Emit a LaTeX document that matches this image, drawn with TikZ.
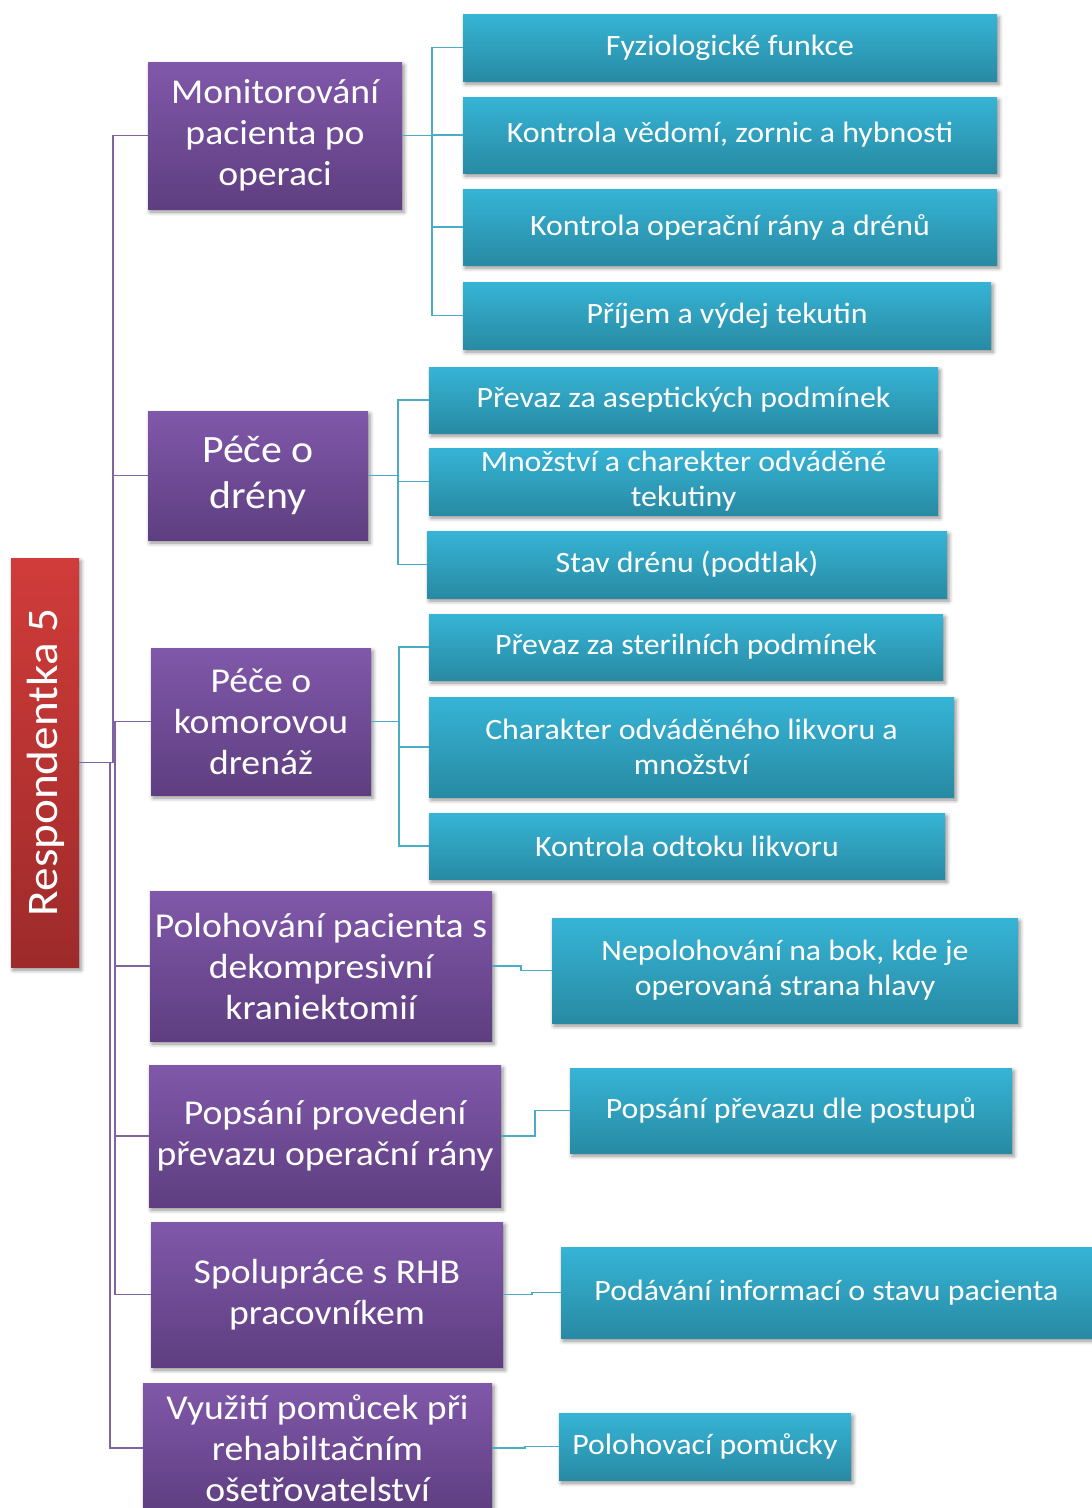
\documentclass[tikz,border=0pt]{standalone}
\usepackage{fontspec}
\setmainfont{Carlito}[FakeStretch=1.08]
\usetikzlibrary{shadows.blur}
\definecolor{purpleTop}{RGB}{128,88,170}
\definecolor{purpleBot}{RGB}{94,62,128}
\definecolor{blueTop}{RGB}{54,180,214}
\definecolor{blueBot}{RGB}{40,138,163}
\definecolor{redTop}{RGB}{208,60,58}
\definecolor{redBot}{RGB}{158,42,42}
\definecolor{purpleLine}{RGB}{128,100,162}
\definecolor{blueLine}{RGB}{75,172,198}
\tikzset{
  box/.style={rectangle, inner sep=0pt, align=center, text=white,
    blur shadow={shadow xshift=2pt, shadow yshift=-3pt, shadow blur radius=4pt, shadow opacity=45}},
  rootbox/.style={box, top color=redTop, bottom color=redBot},
  topicbox/.style={box, top color=purpleTop, bottom color=purpleBot,
    font=\fontsize{34.9}{41}\selectfont},
  bigtopic/.style={topicbox, font=\fontsize{38.7}{46}\selectfont},
  itembox/.style={box, top color=blueTop, bottom color=blueBot,
    font=\fontsize{29.5}{35}\selectfont},
  rootlink/.style={draw=purpleLine, line width=1.8pt},
  itemlink/.style={draw=blueLine, line width=1.8pt},
}
\begin{document}
\begin{tikzpicture}[x=1pt, y=-1pt]
\useasboundingbox (0,0) rectangle (1092,1508);

% root
\node[rootbox, minimum width=68pt, minimum height=409pt] (root) at (45,762.5) {};
\node[text=white, font=\fontsize{43.7}{50}\selectfont, rotate=90] (rootlabel) at (46,762.5) {Respondentka 5};

% topics
\node[topicbox, minimum width=254pt, minimum height=147pt] (p1) at (275,135.5)
  {Monitorování\\pacienta po\\operaci};
\node[bigtopic, minimum width=220pt, minimum height=129pt] (p2) at (258,475.5)
  {Péče o\\drény};
\node[topicbox, minimum width=220pt, minimum height=147pt] (p3) at (261,721.5)
  {Péče o\\komorovou\\drenáž};
\node[topicbox, minimum width=342pt, minimum height=150pt] (p4) at (321,966)
  {Polohování pacienta s\\dekompresivní\\kraniektomií};
\node[topicbox, minimum width=352pt, minimum height=142pt] (p5) at (325,1136)
  {Popsání provedení\\převazu operační rány};
\node[topicbox, minimum width=352pt, minimum height=145pt] (p6) at (327,1294.5)
  {Spolupráce s RHB\\pracovníkem};
\node[topicbox, minimum width=349pt, minimum height=130pt] (p7) at (317.5,1448)
  {Využití pomůcek při\\rehabiltačním\\ošetřovatelství};

% items
\node[itembox, minimum width=534pt, minimum height=67pt] (b1) at (730,47.5) {Fyziologické funkce};
\node[itembox, minimum width=534pt, minimum height=76pt] (b2) at (730,135) {Kontrola vědomí, zornic a hybnosti};
\node[itembox, minimum width=534pt, minimum height=76pt] (b3) at (730,227) {Kontrola operační rány a drénů};
\node[itembox, minimum width=528pt, minimum height=67pt] (b4) at (727,315.5) {Příjem a výdej tekutin};

\node[itembox, minimum width=509pt, minimum height=66pt] (b5) at (683.5,400) {Převaz za aseptických podmínek};
\node[itembox, minimum width=509pt, minimum height=67pt] (b6) at (683.5,481.5) {Množství a charekter odváděné\\tekutiny};
\node[itembox, minimum width=520pt, minimum height=67pt] (b7) at (687,564.5) {Stav drénu (podtlak)};

\node[itembox, minimum width=514pt, minimum height=66pt] (b8) at (686,647) {Převaz za sterilních podmínek};
\node[itembox, minimum width=525pt, minimum height=100pt] (b9) at (691.5,747) {Charakter odváděného likvoru a\\množství};
\node[itembox, minimum width=516pt, minimum height=66pt] (b10) at (687,846) {Kontrola odtoku likvoru};

\node[itembox, minimum width=466pt, minimum height=105pt] (b11) at (785,970.5) {Nepolohování na bok, kde je\\operovaná strana hlavy};
\node[itembox, minimum width=442pt, minimum height=85pt] (b12) at (791,1110.5) {Popsání převazu dle postupů};
\node[itembox, minimum width=531pt, minimum height=91pt] (b13) at (826.5,1292.5) {Podávání informací o stavu pacienta};
\node[itembox, minimum width=292pt, minimum height=67pt] (b14) at (705,1446.5) {Polohovací pomůcky};

% root to topics
\draw[rootlink] (root.east) -- ++(34,0) |- (p1.west);
\draw[rootlink] (root.east) -- ++(34,0) |- (p2.west);
\draw[rootlink] (root.east) -- ++(36,0) |- (p3.west);
\draw[rootlink] (root.east) -- ++(36,0) |- (p4.west);
\draw[rootlink] (root.east) -- ++(36,0) |- (p5.west);
\draw[rootlink] (root.east) -- ++(36,0) |- (p6.west);
\draw[rootlink] (root.east) -- ++(31,0) |- (p7.west);

% topics to items
\foreach \c in {b1,b2,b3,b4} \draw[itemlink] (p1.east) -- ++(30,0) |- (\c.west);
\foreach \c in {b5,b6,b7} \draw[itemlink] (p2.east) -- ++(30,0) |- (\c.west);
\foreach \c in {b8,b9,b10} \draw[itemlink] (p3.east) -- ++(28,0) |- (\c.west);
\draw[itemlink] (p4.east) -- ++(29,0) |- (b11.west);
\draw[itemlink] (p5.east) -- ++(34,0) |- (b12.west);
\draw[itemlink] (p6.east) -- ++(29,0) |- (b13.west);
\draw[itemlink] (p7.east) -- ++(33,0) |- (b14.west);
\end{tikzpicture}
\end{document}
